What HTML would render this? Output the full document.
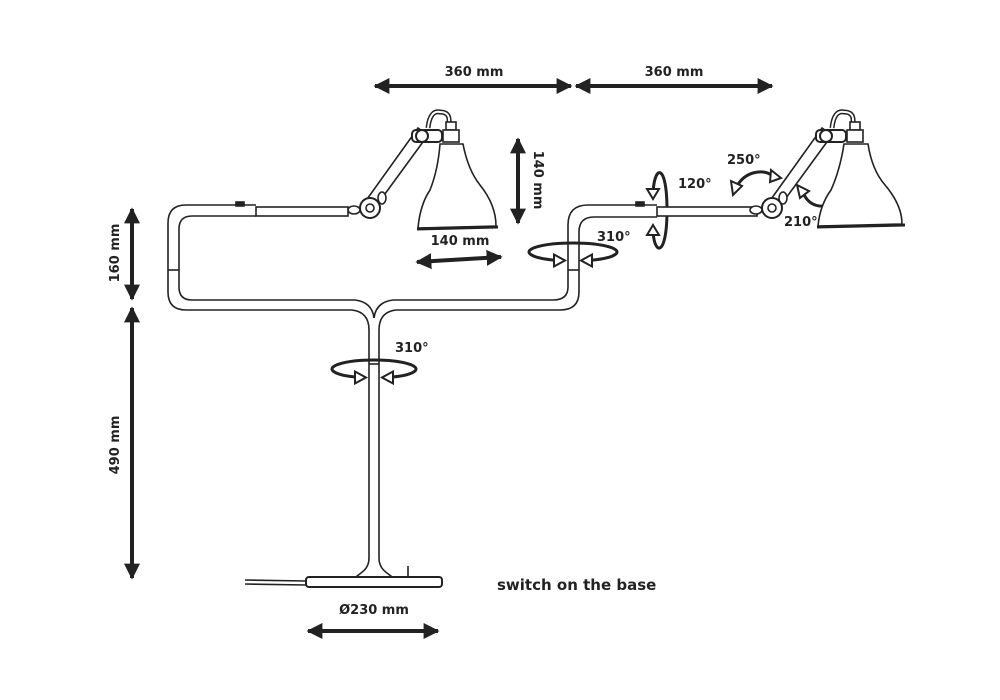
<!DOCTYPE html>
<html><head><meta charset="utf-8"><style>
html,body{margin:0;padding:0;background:#fff;}
svg{display:block;font-family:"DejaVu Sans","Liberation Sans",sans-serif;font-weight:bold;}
</style></head><body>
<svg width="1000" height="700" viewBox="0 0 1000 700" xmlns="http://www.w3.org/2000/svg">
<defs>
<marker id="ah" viewBox="0 0 10 10" refX="9" refY="5" markerWidth="4" markerHeight="4" orient="auto-start-reverse">
<path d="M0,0 L10,5 L0,10 z" fill="#222"/></marker>
</defs>
<g fill="none" stroke="#222" stroke-linecap="butt">
<g stroke-width="4">
<line x1="375" y1="86" x2="571" y2="86" marker-start="url(#ah)" marker-end="url(#ah)"/>
<line x1="576" y1="86" x2="772" y2="86" marker-start="url(#ah)" marker-end="url(#ah)"/>
<line x1="132" y1="209" x2="132" y2="299" marker-start="url(#ah)" marker-end="url(#ah)"/>
<line x1="132" y1="308" x2="132" y2="578" marker-start="url(#ah)" marker-end="url(#ah)"/>
<line x1="518" y1="139" x2="518" y2="223" marker-start="url(#ah)" marker-end="url(#ah)"/>
<line x1="417" y1="262" x2="501" y2="257" marker-start="url(#ah)" marker-end="url(#ah)"/>
<line x1="308" y1="631" x2="438" y2="631" marker-start="url(#ah)" marker-end="url(#ah)"/>
</g>
</g>
<!-- rotation arrows -->
<g fill="none" stroke="#222" stroke-width="3">
<path d="M360,377.5 A42,9 0 1 1 388,377.5"/>
<path d="M559,260.5 A44,9 0 1 1 587,260.5"/>
<path d="M653,197 C653,165 667,160 667,210 C667,260 653,255 653,228"/>
<path d="M737,186 C745,172 762,168 773,176"/>
<path d="M803,192 C808,206 822,210 834,202"/>
</g>
<g fill="#fff" stroke="#222" stroke-width="2">
<path d="M355,371.5 L355,383.5 L366,377.5 z"/>
<path d="M393,371.5 L393,383.5 L382,377.5 z"/>
<path d="M554,254.5 L554,266.5 L565,260.5 z"/>
<path d="M592,254.5 L592,266.5 L581,260.5 z"/>
<path d="M647,189 L659,189 L653,199 z"/>
<path d="M647,235 L659,235 L653,225 z"/>
<path d="M731,181 L742,186 L733,195 z"/>
<path d="M771,170 L781,178 L770,182 z"/>
<path d="M797,185 L809,191 L800,198 z"/>
<path d="M832,196 L840,203 L830,208 z"/>
</g>
<!-- tubes -->
<g fill="none" stroke="#222" stroke-width="1.6">
<path d="M256,205 L186,205 Q168,205 168,223 L168,292 Q168,310 186,310 L352,310 Q369,312 369,330 L369,558"/>
<path d="M256,216 L192,216 Q179,216 179,229 L179,287 Q179,300 192,300 L355,300 Q372,302 374,318"/>
<path d="M379,558 L379,330 Q379,312 396,310 L560,310 Q579,310 579,292 L579,232 Q579,217 594,217 L657,217"/>
<path d="M374,318 Q376,302 393,300 L553,300 Q568,300 568,287 L568,225 Q568,205 588,205 L657,205"/>
<line x1="168" y1="270" x2="179" y2="270"/><line x1="369" y1="364" x2="379" y2="364"/><line x1="568" y1="270" x2="579" y2="270"/>
<rect x="256" y="207" width="92" height="9" fill="#fff"/>
<rect x="657" y="207" width="100" height="9" fill="#fff"/>
<rect x="236" y="202" width="8" height="4" fill="#222"/>
<rect x="636" y="202" width="8" height="4" fill="#222"/>
<!-- left lamp -->
<path d="M365,202 L418,128 L428,135 L374,209 Z" fill="#fff"/>
<circle cx="370" cy="208" r="10" fill="#fff" stroke-width="2"/><circle cx="370" cy="208" r="4" fill="#fff"/>
<ellipse cx="354" cy="210" rx="6" ry="4" fill="#fff"/>
<ellipse cx="382" cy="198" rx="4" ry="6" fill="#fff"/>
<path d="M428,128 Q430,110 440,112 Q450,112 449,122" stroke-width="5" stroke="#222"/>
<path d="M428,128 Q430,110 440,112 Q450,112 449,122" stroke-width="2" stroke="#fff"/>
<rect x="412" y="130" width="30" height="12" rx="4" fill="#fff" stroke-width="2"/>
<circle cx="422" cy="136" r="6" fill="#fff" stroke-width="2"/>
<rect x="446" y="122" width="10" height="8" fill="#fff"/>
<rect x="443" y="130" width="16" height="12" fill="#fff"/>
<path d="M440,144 L463,144 Q468,170 480,185 Q496,205 496,226 L418,228 Q420,205 430,190 Q438,170 440,144 Z" fill="#fff"/>
<line x1="417" y1="229" x2="498" y2="227" stroke-width="3"/>
<!-- right lamp -->
<path d="M769,202 L822,128 L832,135 L778,209 Z" fill="#fff"/>
<circle cx="772" cy="208" r="10" fill="#fff" stroke-width="2"/><circle cx="772" cy="208" r="4" fill="#fff"/>
<ellipse cx="756" cy="210" rx="6" ry="4" fill="#fff"/>
<ellipse cx="783" cy="198" rx="4" ry="6" fill="#fff"/>
<path d="M832,128 Q834,110 844,112 Q854,112 853,122" stroke-width="5" stroke="#222"/>
<path d="M832,128 Q834,110 844,112 Q854,112 853,122" stroke-width="2" stroke="#fff"/>
<rect x="816" y="130" width="30" height="12" rx="4" fill="#fff" stroke-width="2"/>
<circle cx="826" cy="136" r="6" fill="#fff" stroke-width="2"/>
<rect x="850" y="122" width="10" height="8" fill="#fff"/>
<rect x="847" y="130" width="16" height="12" fill="#fff"/>
<path d="M844,144 L868,144 Q872,170 885,185 Q902,205 902,224 L818,226 Q820,205 831,190 Q840,170 844,144 Z" fill="#fff"/>
<line x1="817" y1="227" x2="905" y2="225" stroke-width="3"/>
<!-- base -->
<path d="M369,558 C369,570 360,573 356,577 M379,558 C379,570 388,573 392,577"/>
<rect x="306" y="577" width="136" height="10" rx="3" fill="#fff" stroke-width="2"/>
<line x1="408" y1="566" x2="408" y2="577"/>
<path d="M245,580 L306,581 M245,584 L306,585"/>
</g>
<g fill="#222" font-size="13">
<text x="474" y="76" text-anchor="middle">360 mm</text>
<text x="674" y="76" text-anchor="middle">360 mm</text>
<text x="460" y="245" text-anchor="middle">140 mm</text>
<text x="374" y="614" text-anchor="middle">Ø230 mm</text>
<text x="395" y="352">310°</text>
<text x="597" y="241">310°</text>
<text x="678" y="188">120°</text>
<text x="727" y="164">250°</text>
<text x="784" y="226">210°</text>
<text x="497" y="590" font-size="15">switch on the base</text>
<text transform="translate(119,253) rotate(-90)" text-anchor="middle">160 mm</text>
<text transform="translate(119,445) rotate(-90)" text-anchor="middle">490 mm</text>
<text transform="translate(534,180) rotate(90)" text-anchor="middle">140 mm</text>
</g>
</svg>
</body></html>
